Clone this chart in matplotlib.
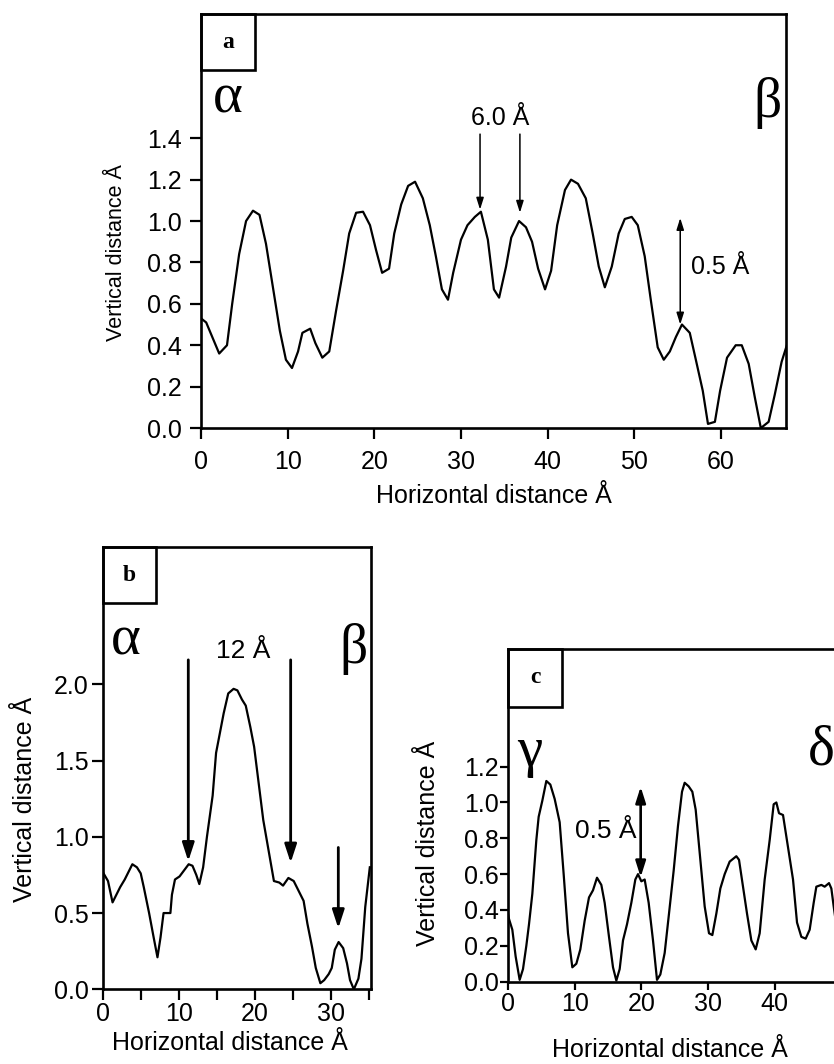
import matplotlib
matplotlib.use('Agg')
import matplotlib.pyplot as plt
from matplotlib.patches import Rectangle
from matplotlib.ticker import FormatStrFormatter, MultipleLocator

plt.rcParams['font.family'] = ['Liberation Sans', 'DejaVu Sans']

# panel a profile
xa = [0.0, 0.6, 2.1, 3.0, 3.6, 4.4, 5.2, 6.0, 6.75, 7.5, 8.3, 9.1, 9.8, 10.5, 11.2, 11.7,
      12.6, 13.2, 14.0, 14.8, 15.6, 16.4, 17.1, 17.9, 18.7, 19.5, 20.2, 20.9, 21.7, 22.3,
      23.1, 23.9, 24.7, 25.6, 26.4, 27.1, 27.8, 28.5, 29.1, 30.0, 30.75, 31.6, 32.3, 33.1,
      33.8, 34.4, 35.2, 35.8, 36.7, 37.5, 38.2, 38.9, 39.7, 40.4, 41.1, 42.0, 42.7, 43.5,
      44.4, 45.2, 45.9, 46.6, 47.4, 48.2, 48.9, 49.7, 50.4, 51.2, 51.9, 52.7, 53.4, 54.1,
      54.8, 55.5, 56.4, 57.1, 57.9, 58.5, 59.3, 59.9, 60.7, 61.7, 62.4, 63.2, 63.9, 64.6,
      65.5, 66.2, 67.0, 67.6]
ya = [0.53, 0.51, 0.36, 0.40, 0.60, 0.84, 1.00, 1.05, 1.03, 0.89, 0.68, 0.47, 0.33, 0.29,
      0.37, 0.46, 0.48, 0.41, 0.34, 0.37, 0.57, 0.76, 0.94, 1.04, 1.045, 0.98, 0.86, 0.75,
      0.77, 0.94, 1.08, 1.17, 1.19, 1.11, 0.98, 0.83, 0.67, 0.62, 0.75, 0.91, 0.98, 1.02,
      1.045, 0.91, 0.67, 0.63, 0.78, 0.92, 1.00, 0.97, 0.90, 0.77, 0.67, 0.76, 0.98, 1.15,
      1.20, 1.18, 1.11, 0.94, 0.78, 0.68, 0.78, 0.94, 1.01, 1.02, 0.98, 0.83, 0.62, 0.39,
      0.33, 0.37, 0.44, 0.50, 0.46, 0.33, 0.18, 0.02, 0.03, 0.18, 0.34, 0.40, 0.40, 0.31,
      0.15, 0.00, 0.03, 0.16, 0.32, 0.40]

# panel b profile
xb = [0.0, 0.7, 1.3, 1.9, 2.3, 2.9, 3.4, 3.9, 4.5, 5.0, 5.4, 6.1, 6.7, 7.2, 7.6, 8.0, 8.9,
      9.1, 9.5, 10.1, 10.7, 11.3, 11.8, 12.3, 12.7, 13.2, 13.7, 14.45, 14.9, 15.4, 15.9,
      16.5, 17.2, 17.7, 18.3, 18.8, 19.4, 19.9, 20.5, 21.1, 21.8, 22.5, 23.2, 23.7, 24.4,
      25.1, 25.7, 26.4, 26.9, 27.5, 28.0, 28.6, 29.1, 29.7, 30.1, 30.5, 31.0, 31.6, 32.1,
      32.5, 33.0, 33.6, 34.0, 34.5, 35.1]
yb = [0.77, 0.71, 0.57, 0.63, 0.67, 0.72, 0.77, 0.82, 0.80, 0.76, 0.67, 0.50, 0.34, 0.21,
      0.34, 0.50, 0.50, 0.62, 0.72, 0.74, 0.78, 0.82, 0.81, 0.75, 0.69, 0.80, 1.00, 1.27,
      1.55, 1.68, 1.81, 1.94, 1.97, 1.96, 1.90, 1.86, 1.72, 1.59, 1.35, 1.11, 0.91, 0.71,
      0.70, 0.68, 0.73, 0.71, 0.65, 0.58, 0.43, 0.28, 0.14, 0.04, 0.06, 0.10, 0.14, 0.26,
      0.31, 0.27, 0.17, 0.06, 0.00, 0.07, 0.20, 0.54, 0.80]

# panel c profile
xc = [0.0, 0.15, 0.65, 1.15, 1.75, 2.25, 2.75, 3.15, 3.65, 4.25, 4.6, 5.15, 5.75, 6.35,
      7.0, 7.75, 8.35, 9.0, 9.65, 10.25, 10.85, 11.5, 12.15, 12.75, 13.35, 14.0, 14.5,
      15.15, 15.75, 16.25, 16.75, 17.25, 17.85, 18.5, 19.1, 19.5, 20.0, 20.5, 21.1, 21.75,
      22.35, 22.85, 23.5, 24.15, 24.85, 25.5, 26.1, 26.5, 27.1, 27.65, 28.15, 28.75, 29.5,
      30.15, 30.65, 31.25, 31.85, 32.5, 33.25, 34.25, 34.65, 35.25, 35.85, 36.5, 37.15,
      37.75, 38.5, 39.25, 39.85, 40.25, 40.65, 41.25, 42.0, 42.75, 43.35, 44.0, 44.65,
      45.25, 45.85, 46.25, 47.0, 47.5, 48.15, 48.5, 48.85, 49.3]
yc = [0.38, 0.35, 0.29, 0.14, 0.01, 0.07, 0.20, 0.32, 0.49, 0.79, 0.92, 1.01, 1.12, 1.10,
      1.02, 0.89, 0.60, 0.27, 0.08, 0.10, 0.18, 0.34, 0.47, 0.51, 0.58, 0.54, 0.44, 0.25,
      0.08, 0.006, 0.07, 0.23, 0.32, 0.44, 0.57, 0.60, 0.56, 0.57, 0.44, 0.23, 0.01, 0.04,
      0.16, 0.38, 0.62, 0.87, 1.06, 1.11, 1.09, 1.06, 0.96, 0.72, 0.42, 0.27, 0.26, 0.38,
      0.52, 0.60, 0.67, 0.70, 0.68, 0.53, 0.38, 0.23, 0.18, 0.27, 0.57, 0.79, 0.99, 1.00,
      0.94, 0.93, 0.75, 0.57, 0.33, 0.25, 0.24, 0.29, 0.44, 0.53, 0.54, 0.53, 0.55, 0.52,
      0.42, 0.30]

SERIF = ['Liberation Serif', 'DejaVu Serif']
LW_SPINE = 1.9


def style_axes(ax, xlim, ylim, xmajor, ymajor, xmax_tick, ymax_tick, xminor=None,
               ticklen=8, xpad=3, ypad=3):
    ax.set_xlim(*xlim)
    ax.set_ylim(*ylim)
    ax.set_xticks([v * xmajor for v in range(int(round(xmax_tick / xmajor)) + 1)])
    ax.set_yticks([v * ymajor for v in range(int(round(ymax_tick / ymajor)) + 1)])
    if xminor:
        ax.xaxis.set_minor_locator(MultipleLocator(xminor))
    ax.yaxis.set_major_formatter(FormatStrFormatter('%.1f'))
    ax.tick_params(which='both', direction='out', length=ticklen, width=1.6, labelsize=18)
    ax.tick_params(axis='x', pad=xpad)
    ax.tick_params(axis='y', pad=ypad)
    for sp in ax.spines.values():
        sp.set_linewidth(LW_SPINE)


def letter_box(ax, txt, w_px, h_px):
    bb = ax.get_position()
    fw, fh = fig.get_size_inches() * fig.dpi
    w = w_px / (bb.width * fw)
    h = h_px / (bb.height * fh)
    ax.add_patch(Rectangle((0, 1 - h), w, h, transform=ax.transAxes, fill=False,
                           lw=LW_SPINE, ec='k', clip_on=False, zorder=5))
    ax.text(w / 2, 1 - h / 2, txt, transform=ax.transAxes, ha='center', va='center',
            fontsize=17, fontweight='bold', family=SERIF)


fig = plt.figure(figsize=(8.34, 10.64), dpi=100)

# ---- a ----
axa = fig.add_axes([0.2410, 0.5977, 0.7014, 0.3891])
axa.plot(xa, ya, color='k', lw=1.6)
style_axes(axa, (0, 67.5), (0, 2.0), 10, 0.2, 60, 1.4, xpad=8, ypad=6)
axa.set_xlabel('Horizontal distance Å', fontsize=18, va='center')
axa.xaxis.set_label_coords(0.5, -0.165)
axa.set_ylabel('Vertical distance Å', fontsize=15.5, va='center')
axa.yaxis.set_label_coords(-0.1436, 0.423)
letter_box(axa, 'a', 54, 56)
axa.text(3.1, 1.59, 'α', fontsize=41, family=SERIF, ha='center', va='center')
axa.text(65.4, 1.57, 'β', fontsize=40, family=SERIF, ha='center', va='center')
thin = dict(arrowstyle='-|>,head_length=0.7,head_width=0.22', lw=1.1, color='k',
            shrinkA=0, shrinkB=0, mutation_scale=10)
axa.annotate('', xy=(32.2, 1.055), xytext=(32.2, 1.42), arrowprops=thin)
axa.annotate('', xy=(36.8, 1.04), xytext=(36.8, 1.42), arrowprops=thin)
axa.text(34.5, 1.50, '6.0 Å', fontsize=18, ha='center', va='center')
dbl = dict(thin, arrowstyle='<|-|>,head_length=0.7,head_width=0.22')
axa.annotate('', xy=(55.3, 0.50), xytext=(55.3, 1.015), arrowprops=dbl)
axa.text(59.9, 0.78, '0.5 Å', fontsize=18, ha='center', va='center')

# ---- b ----
axb = fig.add_axes([0.1231, 0.0702, 0.3217, 0.4157])
axb.plot(xb, yb, color='k', lw=1.6)
style_axes(axb, (0, 35.25), (0, 2.9), 10, 0.5, 30, 2.0, xminor=5, xpad=1, ypad=2)
axb.set_xlabel('Horizontal distance Å', fontsize=18, va='center')
axb.xaxis.set_label_coords(0.474, -0.122)
axb.set_ylabel('Vertical distance Å', fontsize=18, va='center')
axb.yaxis.set_label_coords(-0.29, 0.43)
letter_box(axb, 'b', 53, 56)
axb.text(3.0, 2.29, 'α', fontsize=41, family=SERIF, ha='center', va='center')
axb.text(32.9, 2.23, 'β', fontsize=40, family=SERIF, ha='center', va='center')
thick = dict(arrowstyle='-|>,head_length=1.1,head_width=0.36', lw=2.0, color='k',
             shrinkA=0, shrinkB=0, mutation_scale=10)
axb.annotate('', xy=(11.25, 0.84), xytext=(11.25, 2.16), arrowprops=thick)
axb.annotate('', xy=(24.7, 0.83), xytext=(24.7, 2.16), arrowprops=thick)
axb.annotate('', xy=(30.96, 0.40), xytext=(30.96, 0.93), arrowprops=thick)
axb.text(18.5, 2.22, '12 Å', fontsize=19, ha='center', va='center')

# ---- c ----
axc = fig.add_axes([0.6091, 0.0774, 0.4221, 0.3127])
axc.plot(xc, yc, color='k', lw=1.6)
style_axes(axc, (0, 52.8), (0, 1.857), 10, 0.2, 40, 1.2, ticklen=5.5, xpad=2, ypad=1)
axc.set_xlabel('Horizontal distance Å', fontsize=18, va='center')
axc.xaxis.set_label_coords(0.46, -0.205)
axc.set_ylabel('Vertical distance Å', fontsize=18, va='center')
axc.yaxis.set_label_coords(-0.227, 0.417)
letter_box(axc, 'c', 54, 58)
axc.text(3.3, 1.28, 'γ', fontsize=41, family=SERIF, ha='center', va='center')
axc.text(47.0, 1.29, 'δ', fontsize=41, family=SERIF, ha='center', va='center')
dbl_c = dict(arrowstyle='<|-|>,head_length=0.95,head_width=0.3', lw=1.9, color='k',
             shrinkA=0, shrinkB=0, mutation_scale=10)
axc.annotate('', xy=(19.9, 0.583), xytext=(19.9, 1.088), arrowprops=dbl_c)
axc.text(14.6, 0.84, '0.5 Å', fontsize=19, ha='center', va='center')

fig.savefig('out.png', dpi=100)
plt.close(fig)
